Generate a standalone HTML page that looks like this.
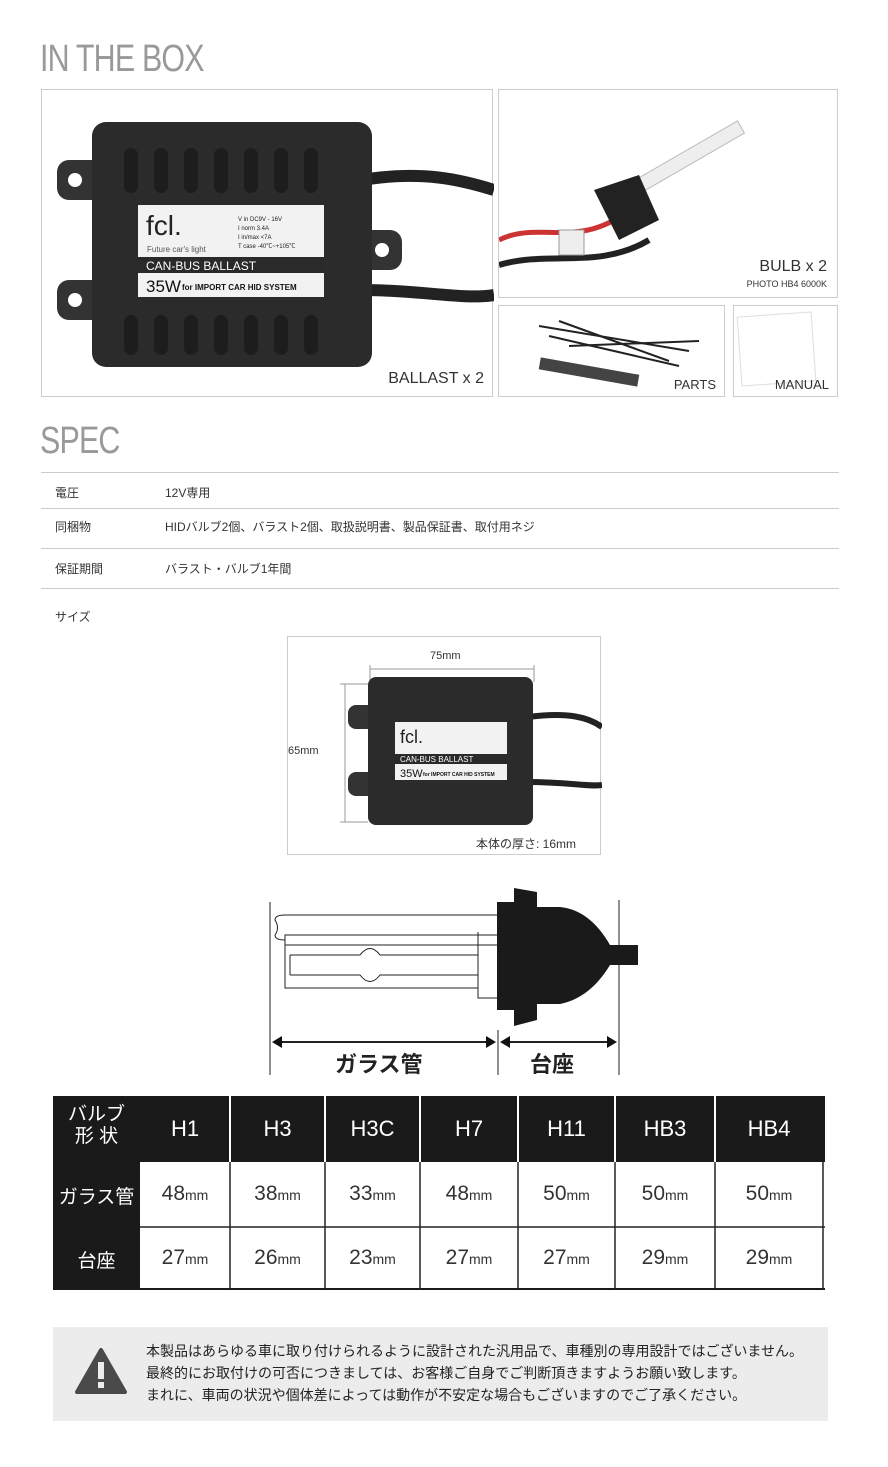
<!DOCTYPE html>
<html><head><meta charset="utf-8"><style>
*{margin:0;padding:0;box-sizing:border-box}
body{width:888px;height:1467px;background:#fff;position:relative;font-family:"Liberation Sans","Noto Sans CJK JP",sans-serif;color:#333;overflow:hidden}
.a{position:absolute}
.h{font-size:38px;color:#999;font-weight:300;transform:scaleX(.8);transform-origin:left;letter-spacing:-1px}
.box{border:1px solid #ccc;background:#fafafa}
.lbl{font-size:15px;color:#333}
.hr{height:1px;background:#ccc;left:41px;width:798px}
.t{font-size:12px;color:#333}
</style></head><body>
<div class="a h" style="left:40px;top:38px">IN THE BOX</div>

<div class="a box" style="left:41px;top:89px;width:452px;height:308px;background:#fff">
 <svg class="a" style="left:0;top:0" width="452" height="308">
  <path d="M320 90 C380 80 420 90 452 100" stroke="#222" stroke-width="12" fill="none"/>
  <path d="M320 200 C380 200 420 210 452 205" stroke="#222" stroke-width="12" fill="none"/>
  <rect x="15" y="70" width="50" height="40" rx="12" fill="#333"/><circle cx="33" cy="90" r="7" fill="#fff"/>
  <rect x="15" y="190" width="50" height="40" rx="12" fill="#333"/><circle cx="33" cy="210" r="7" fill="#fff"/>
  <rect x="310" y="140" width="50" height="40" rx="12" fill="#333"/><circle cx="340" cy="160" r="7" fill="#fff"/>
  <rect x="50" y="32" width="280" height="245" rx="14" fill="#2b2b2b"/>
  <g fill="#1d1d1d">
   <rect x="82" y="58" width="14" height="45" rx="7"/><rect x="112" y="58" width="14" height="45" rx="7"/><rect x="142" y="58" width="14" height="45" rx="7"/><rect x="172" y="58" width="14" height="45" rx="7"/><rect x="202" y="58" width="14" height="45" rx="7"/><rect x="232" y="58" width="14" height="45" rx="7"/><rect x="262" y="58" width="14" height="45" rx="7"/>
   <rect x="82" y="225" width="14" height="40" rx="7"/><rect x="112" y="225" width="14" height="40" rx="7"/><rect x="142" y="225" width="14" height="40" rx="7"/><rect x="172" y="225" width="14" height="40" rx="7"/><rect x="202" y="225" width="14" height="40" rx="7"/><rect x="232" y="225" width="14" height="40" rx="7"/><rect x="262" y="225" width="14" height="40" rx="7"/>
  </g>
  <rect x="96" y="115" width="186" height="92" fill="#f2f2f2"/>
  <rect x="96" y="167" width="186" height="16" fill="#2a2a2a"/>
  <text x="104" y="145" font-size="28" fill="#222" font-family="Liberation Sans">fcl.</text>
  <text x="105" y="162" font-size="8" fill="#555">Future car's light</text>
  <text x="196" y="131" font-size="6" fill="#222">V in    DC9V - 16V</text>
  <text x="196" y="140" font-size="6" fill="#222">I norm  3.4A</text>
  <text x="196" y="149" font-size="6" fill="#222">I in/max &lt;7A</text>
  <text x="196" y="158" font-size="6" fill="#222">T case  -40℃~+105℃</text>
  <text x="104" y="180" font-size="12" fill="#fff">CAN-BUS BALLAST</text>
  <text x="104" y="202" font-size="17" fill="#111">35W</text>
  <text x="140" y="200" font-size="8" font-weight="bold" fill="#111">for IMPORT CAR HID SYSTEM</text>
 </svg>
 <div class="a lbl" style="right:8px;bottom:8px;font-size:16px">BALLAST x 2</div>
</div>

<div class="a box" style="left:498px;top:89px;width:340px;height:209px;background:#fff">
 <svg class="a" width="340" height="209">
  <rect x="130" y="60" width="120" height="14" fill="#eee" stroke="#bbb" transform="rotate(-30 190 67)"/>
  <path d="M0 150 C40 130 80 160 130 120" stroke="#c33" stroke-width="5" fill="none"/>
  <path d="M0 175 C50 160 100 180 150 150" stroke="#222" stroke-width="6" fill="none"/>
  <path d="M95 100 L140 85 L160 130 L120 150 Z" fill="#222"/>
  <rect x="60" y="140" width="25" height="25" fill="#eee" stroke="#999"/>
 </svg>
 <div class="a lbl" style="right:10px;top:168px;font-size:16px">BULB x 2</div>
 <div class="a" style="right:10px;top:189px;font-size:9px;color:#333">PHOTO HB4 6000K</div>
</div>

<div class="a box" style="left:498px;top:305px;width:227px;height:92px;background:#fff">
 <svg class="a" width="227" height="92"><g stroke="#222" stroke-width="2">
  <line x1="40" y1="20" x2="190" y2="45"/><line x1="50" y1="30" x2="180" y2="60"/><line x1="60" y1="15" x2="170" y2="55"/><line x1="70" y1="40" x2="200" y2="35"/></g>
  <rect x="40" y="60" width="100" height="12" fill="#444" transform="rotate(10 90 66)"/></svg>
 <div class="a" style="right:8px;bottom:4px;font-size:13px">PARTS</div>
</div>
<div class="a box" style="left:733px;top:305px;width:105px;height:92px;background:#fff">
 <div class="a" style="left:5px;top:8px;width:75px;height:70px;background:#fff;border:1px solid #ddd;transform:rotate(-4deg)"></div>
 <div class="a" style="right:8px;bottom:4px;font-size:13px">MANUAL</div>
</div>

<div class="a h" style="left:40px;top:420px">SPEC</div>
<div class="a hr" style="top:472px"></div>
<div class="a hr" style="top:508px"></div>
<div class="a hr" style="top:548px"></div>
<div class="a hr" style="top:588px"></div>
<div class="a t" style="left:55px;top:484px">電圧</div><div class="a t" style="left:165px;top:484px">12V専用</div>
<div class="a t" style="left:55px;top:518px">同梱物</div><div class="a t" style="left:165px;top:518px">HIDバルブ2個、バラスト2個、取扱説明書、製品保証書、取付用ネジ</div>
<div class="a t" style="left:55px;top:560px">保証期間</div><div class="a t" style="left:165px;top:560px">バラスト・バルブ1年間</div>
<div class="a t" style="left:55px;top:608px">サイズ</div>

<div class="a" style="left:287px;top:636px;width:314px;height:219px;border:1px solid #ccc;background:#fff">
 <svg class="a" width="314" height="219">
  <line x1="82" y1="28" x2="82" y2="45" stroke="#999"/><line x1="246" y1="28" x2="246" y2="45" stroke="#999"/>
  <line x1="82" y1="32" x2="246" y2="32" stroke="#999"/>
  <line x1="52" y1="47" x2="80" y2="47" stroke="#999"/><line x1="52" y1="185" x2="80" y2="185" stroke="#999"/>
  <line x1="57" y1="47" x2="57" y2="185" stroke="#999"/>
  <path d="M240 80 C280 75 300 80 314 90" stroke="#222" stroke-width="6" fill="none"/>
  <path d="M240 145 C280 145 300 150 314 148" stroke="#222" stroke-width="6" fill="none"/>
  <rect x="60" y="68" width="30" height="24" rx="8" fill="#333"/><rect x="60" y="135" width="30" height="24" rx="8" fill="#333"/>
  <rect x="80" y="40" width="165" height="148" rx="8" fill="#2b2b2b"/>
  <rect x="107" y="85" width="112" height="58" fill="#f2f2f2"/>
  <rect x="107" y="117" width="112" height="10" fill="#2a2a2a"/>
  <text x="112" y="106" font-size="18" fill="#222">fcl.</text>
  <text x="112" y="125" font-size="8" fill="#fff">CAN-BUS BALLAST</text>
  <text x="112" y="140" font-size="11" fill="#111">35W</text>
  <text x="135" y="139" font-size="5" fill="#111" font-weight="bold">for IMPORT CAR HID SYSTEM</text>
 </svg>
 <div class="a" style="left:142px;top:13px;font-size:11px">75mm</div>
 <div class="a" style="left:0;top:108px;font-size:11px">65mm</div>
 <div class="a" style="left:188px;top:198px;font-size:12px">本体の厚さ: 16mm</div>
</div>

<svg class="a" style="left:260px;top:880px" width="380" height="200">
 <g stroke="#222" stroke-width="1" fill="none">
  <line x1="10" y1="22" x2="10" y2="195"/><line x1="238" y1="150" x2="238" y2="195"/><line x1="359" y1="20" x2="359" y2="195"/>
  <path d="M238 35 H25 Q15 35 15 40 Q20 48 15 55 Q15 60 25 60 V65 H238"/>
  <path d="M237 55 H25 V108 H218"/>
  <path d="M218 52 V118 H237"/>
  <path d="M30 75 H100 Q110 62 120 75 H218 M30 95 H100 Q110 108 120 95 H218 M30 75 V95"/>
 </g>
 <path d="M237 22 H254 V8 L277 12 V27 H300 Q330 30 350 65 H378 V85 H350 Q330 118 300 124 H277 V140 L254 146 V130 H237 Z" fill="#1a1a1a"/>
 <line x1="14" y1="162" x2="234" y2="162" stroke="#222" stroke-width="2"/>
 <line x1="242" y1="162" x2="355" y2="162" stroke="#222" stroke-width="2"/>
 <path d="M12 162 L22 156 V168Z M236 162 L226 156 V168Z M240 162 L250 156 V168Z M357 162 L347 156 V168Z" fill="#111"/>
 <text x="75" y="192" font-size="22" font-weight="bold" fill="#222" font-family="Noto Sans CJK JP">ガラス管</text>
 <text x="270" y="192" font-size="22" font-weight="bold" fill="#222" font-family="Noto Sans CJK JP">台座</text>
</svg>

<div class="a" style="left:53px;top:1096px;width:772px;height:194px;background:#1a1a1a"></div>
<div class="a" style="left:140px;top:1162px;width:685px;height:126px;background:#fff"></div>
<svg class="a" style="left:53px;top:1096px" width="772" height="194">
 <g stroke="#fff" stroke-width="2">
  <line x1="177" y1="0" x2="177" y2="66"/><line x1="272" y1="0" x2="272" y2="66"/><line x1="367" y1="0" x2="367" y2="66"/><line x1="465" y1="0" x2="465" y2="66"/><line x1="562" y1="0" x2="562" y2="66"/><line x1="662" y1="0" x2="662" y2="66"/>
 </g>
 <g stroke="#222" stroke-width="1.5">
  <line x1="177" y1="66" x2="177" y2="194"/><line x1="272" y1="66" x2="272" y2="194"/><line x1="367" y1="66" x2="367" y2="194"/><line x1="465" y1="66" x2="465" y2="194"/><line x1="562" y1="66" x2="562" y2="194"/><line x1="662" y1="66" x2="662" y2="194"/>
  <line x1="87" y1="131" x2="772" y2="131"/><line x1="770" y1="66" x2="770" y2="194"/>
 </g>
</svg>
<div class="a" style="left:53px;top:1104px;width:87px;text-align:center;color:#fff;font-size:19px;line-height:22px">バルブ<br>形 状</div>
<div class="a" style="left:140px;top:1116px;width:772px;color:#fff;font-size:22px;display:flex">
 <span style="width:90px;text-align:center">H1</span><span style="width:95px;text-align:center">H3</span><span style="width:95px;text-align:center">H3C</span><span style="width:98px;text-align:center">H7</span><span style="width:97px;text-align:center">H11</span><span style="width:100px;text-align:center">HB3</span><span style="width:108px;text-align:center">HB4</span></div>
<div class="a" style="left:53px;top:1182px;width:87px;text-align:center;color:#fff;font-size:19px">ガラス管</div>
<div class="a" style="left:53px;top:1246px;width:87px;text-align:center;color:#fff;font-size:19px">台座</div>
<div class="a" style="left:140px;top:1182px;color:#333;font-size:21px;display:flex">
 <span style="width:90px;text-align:center">48<small style="font-size:14px">mm</small></span><span style="width:95px;text-align:center">38<small style="font-size:14px">mm</small></span><span style="width:95px;text-align:center">33<small style="font-size:14px">mm</small></span><span style="width:98px;text-align:center">48<small style="font-size:14px">mm</small></span><span style="width:97px;text-align:center">50<small style="font-size:14px">mm</small></span><span style="width:100px;text-align:center">50<small style="font-size:14px">mm</small></span><span style="width:108px;text-align:center">50<small style="font-size:14px">mm</small></span></div>
<div class="a" style="left:140px;top:1246px;color:#333;font-size:21px;display:flex">
 <span style="width:90px;text-align:center">27<small style="font-size:14px">mm</small></span><span style="width:95px;text-align:center">26<small style="font-size:14px">mm</small></span><span style="width:95px;text-align:center">23<small style="font-size:14px">mm</small></span><span style="width:98px;text-align:center">27<small style="font-size:14px">mm</small></span><span style="width:97px;text-align:center">27<small style="font-size:14px">mm</small></span><span style="width:100px;text-align:center">29<small style="font-size:14px">mm</small></span><span style="width:108px;text-align:center">29<small style="font-size:14px">mm</small></span></div>

<div class="a" style="left:53px;top:1327px;width:775px;height:94px;background:#ececec"></div>
<svg class="a" style="left:75px;top:1347px" width="52" height="48"><path d="M26 3 L50 45 H2 Z" fill="#4a4a4a" stroke="#4a4a4a" stroke-width="4" stroke-linejoin="round"/><rect x="23" y="15" width="6" height="17" fill="#ececec"/><rect x="23" y="35" width="6" height="6" fill="#ececec"/></svg>
<div class="a" style="left:146px;top:1340px;font-size:14px;line-height:22px;color:#222">本製品はあらゆる車に取り付けられるように設計された汎用品で、車種別の専用設計ではございません。<br>最終的にお取付けの可否につきましては、お客様ご自身でご判断頂きますようお願い致します。<br>まれに、車両の状況や個体差によっては動作が不安定な場合もございますのでご了承ください。</div>
</body></html>
